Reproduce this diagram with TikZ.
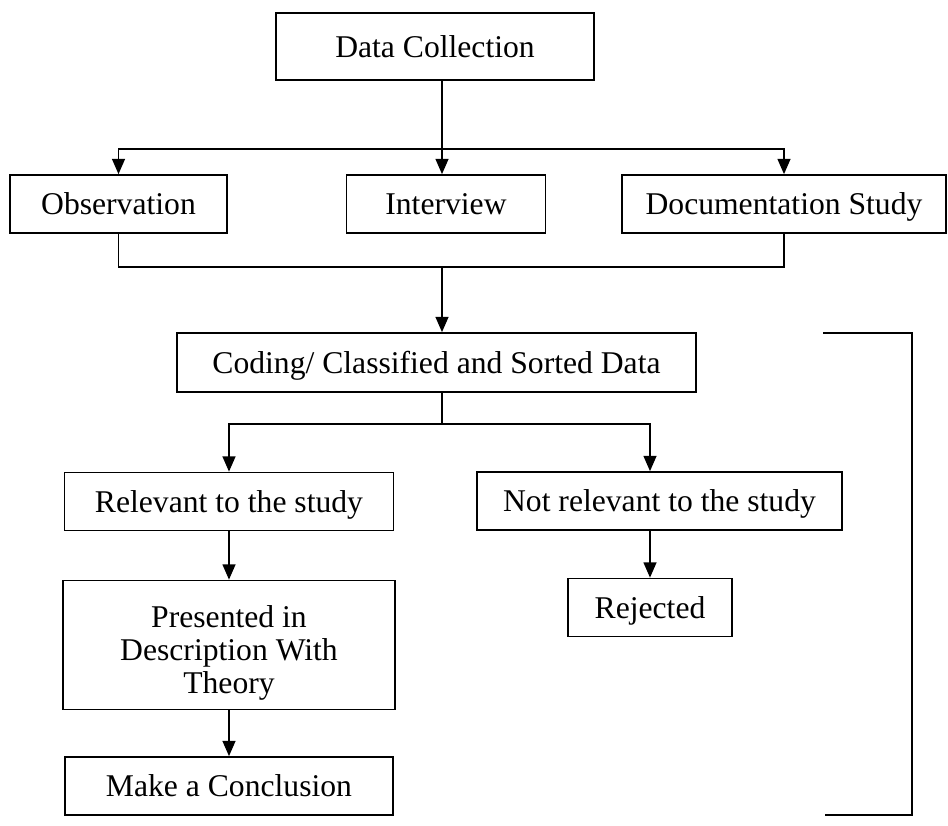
\documentclass[tikz,border=0pt]{standalone}
\usepackage{fontspec}
\setmainfont{Liberation Serif}
\usetikzlibrary{arrows.meta}

\tikzset{
  block/.style={draw,line width=1.2pt,fill=white,inner sep=0pt,minimum height=1.45cm,
    font=\fontsize{22.5}{23.5}\selectfont},
  box/.style={block,text height=18pt,text depth=3pt},
  link/.style={line width=1.2pt},
  flow/.style={line width=1.2pt,-{Triangle[length=0.38cm,width=0.32cm]}}
}

\begin{document}
\begin{tikzpicture}[x=0.025cm,y=-0.025cm]
\useasboundingbox (0,0) rectangle (948,825);
\node[box,minimum width=7.95cm,minimum height=1.675cm] (collect) at (435,46.5) {Data Collection};
\node[box,minimum width=5.425cm] (observe) at (118.5,204) {Observation};
\node[box,minimum width=4.975cm] (interview) at (446,204) {Interview};
\node[box,minimum width=8.1cm] (document) at (784,204) {Documentation Study};
\node[box,minimum width=12.975cm,minimum height=1.475cm] (coding) at (436.5,362.5) {Coding/ Classified and Sorted Data};
\node[box,minimum width=8.225cm] (relevant) at (229,501.5) {Relevant to the study};
\node[box,minimum width=9.125cm] (notrel) at (659.5,501) {Not relevant to the study};
\node[block,minimum width=8.3cm,minimum height=3.225cm,align=center] (present) at (229,645) {\rule{0pt}{27pt}Presented in\\Description With\\Theory};
\node[box,minimum width=4.1cm] (reject) at (650,607.5) {Rejected};
\node[box,minimum width=8.2cm] (conclude) at (229,786) {Make a Conclusion};
\coordinate (fork) at (442,149);
\coordinate (merge) at (442,267);
\coordinate (split) at (442,424);
\coordinate (looptop) at (823,333);
\coordinate (loopbot) at (825,815);
\draw[link] (collect.south -| fork) -- (fork);
\draw[flow] (fork) -| (observe.north);
\draw[flow] (fork) -- (fork |- interview.north);
\draw[flow] (fork) -| (document.north);
\draw[link] (observe.south) |- (document.south |- merge) -- (document.south);
\draw[flow] (merge) -- (merge |- coding.north);
\draw[link] (coding.south -| split) -- (split);
\draw[flow] (split) -| (relevant.north);
\draw[flow] (split) -| (notrel.north -| reject.north);
\draw[flow] (relevant) -- (present);
\draw[flow] (present) -- (conclude);
\draw[flow] (notrel.south -| reject.north) -- (reject.north);
\draw[link] (looptop) -- ++(89,0) |- (loopbot);
\end{tikzpicture}
\end{document}
